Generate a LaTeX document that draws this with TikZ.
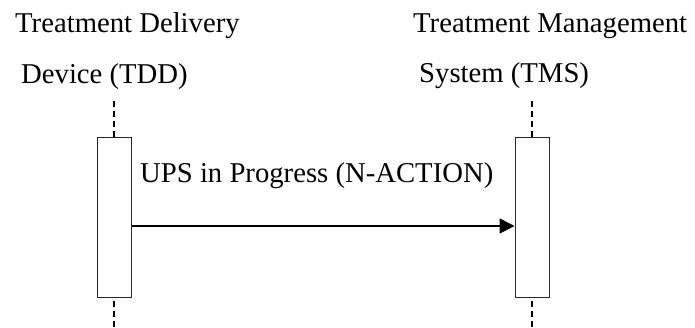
\documentclass[tikz,border=0pt]{standalone}
\usepackage{fontspec}
\setmainfont{Liberation Serif}
\usetikzlibrary{arrows.meta}
\begin{document}
\begin{tikzpicture}[x=1pt,y=1pt,
  lbl/.style={anchor=base west,inner sep=0pt,font=\fontsize{28.7}{30}\selectfont},
  actbox/.style={draw=black!85,fill=white,line width=1pt,minimum width=34pt,minimum height=160pt,inner sep=0pt},
  life/.style={line width=1.4pt,dash pattern=on 6pt off 4pt},
  msg/.style={line width=1.7pt,-{Triangle[length=15pt,width=15pt]}}]
\useasboundingbox (0,0) rectangle (695,-327);
\node[lbl] (t1) at (15,-32.5) {Treatment Delivery};
\node[lbl] (t2) at (21,-83) {Device (TDD)};
\node[lbl] (t3) at (413,-32.5) {Treatment Management};
\node[lbl] (t4) at (419,-82) {System (TMS)};
\coordinate (l1top) at (114,-101);
\coordinate (l1bot) at (114,-327);
\coordinate (l2top) at (532,-101);
\coordinate (l2bot) at (532,-327);
\draw[life] (l1top) -- (l1bot);
\draw[life] (l2top) -- (l2bot);
\node[actbox] (a1) at (114,-217) {};
\node[actbox] (a2) at (532,-217.5) {};
\node[lbl] (m) at (140,-182) {UPS in Progress (N-ACTION)};
\path (a1.east) ++(0,-9) coordinate (m1);
\draw[msg] (m1) -- (m1 -| a2.west);
\end{tikzpicture}
\end{document}
